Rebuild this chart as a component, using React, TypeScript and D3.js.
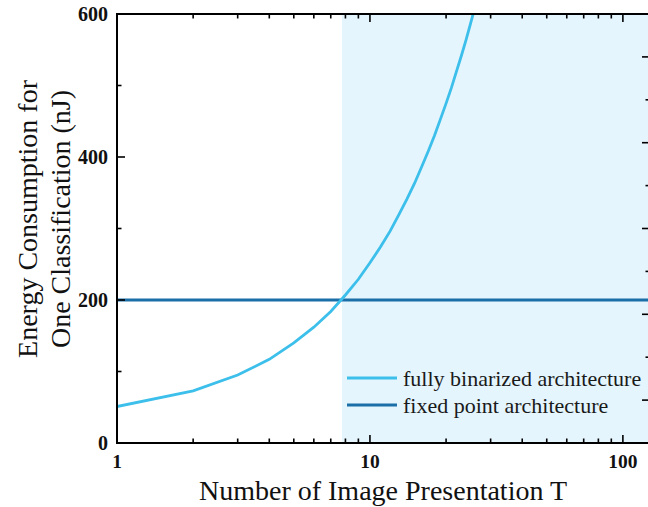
import * as d3 from "d3";

const tValues = [1, 2, 3, 4, 5, 6, 7, 8, 9, 10, 11, 12, 13, 14, 15, 16, 17, 18, 19, 20, 21, 22, 23, 24, 25, 26, 27];
const binarizedEnergy = [51, 73, 95, 117, 140, 162, 184, 207, 229, 252, 274, 296, 319, 341, 363, 386, 408, 430, 453, 475, 497, 520, 542, 564, 587, 609, 631];
const fixedPointEnergy = [200, 200];
const fixedPointT = [1, 128];
const shadeRange = [7.75, 128];
const yTicks = [0, 200, 400, 600];
const yMinorTicks = [100, 300, 500];
const xLabelTicks = [1, 10, 100];
const rightMajor = [1, 3, 5, 7, 9];
const rightMinor = [2, 4, 6, 8];
const legendLabels = ["fully binarized architecture", "fixed point architecture"];

const W = 648;
const H = 507;
const left = 117;
const right = 650;
const top = 14;
const bottom = 443;
const light = "#3cbfea";
const dark = "#1b6fa8";
const shade = "#e4f5fd";
const font = "'Liberation Serif', 'Times New Roman', serif";

export default function App() {
  const x = d3.scaleLog().domain([1, 128]).range([left, right]);
  const y = d3.scaleLinear().domain([0, 600]).range([bottom, top]);
  const yr = d3.scaleLinear().domain([0, 10]).range([bottom, top]);

  const line = d3
    .line<[number, number]>()
    .x((d) => x(d[0]))
    .y((d) => y(d[1]));

  const binPts = tValues.map((t, i) => [t, binarizedEnergy[i]] as [number, number]);
  const fixPts = fixedPointT.map((t, i) => [t, fixedPointEnergy[i]] as [number, number]);

  // log minor ticks
  const xMinor: number[] = [];
  for (let dec = 1; dec <= 100; dec *= 10) {
    for (let k = 2; k <= 9; k++) {
      if (dec * k <= 128) xMinor.push(dec * k);
    }
  }

  return (
    <svg width={W} height={H} style={{ position: "absolute", left: 0, top: 0 }}>
      <defs>
        <clipPath id="plot">
          <rect x={left} y={top} width={right - left} height={bottom - top} />
        </clipPath>
      </defs>
      <rect
        x={x(shadeRange[0])}
        y={top}
        width={x(shadeRange[1]) - x(shadeRange[0])}
        height={bottom - top}
        fill={shade}
      />
      <g clipPath="url(#plot)">
        <path d={line(fixPts) ?? ""} fill="none" stroke={dark} strokeWidth={2.8} />
        <path d={line(binPts) ?? ""} fill="none" stroke={light} strokeWidth={2.8} />
      </g>

      {/* legend */}
      {legendLabels.map((lab, i) => (
        <g key={lab} transform={`translate(347,${378 + i * 27})`}>
          <line x1={0} x2={50} y1={0} y2={0} stroke={i === 0 ? light : dark} strokeWidth={2.8} />
          <text x={56} y={8} fontFamily={font} fontSize={22} fill="#1a1a1a">
            {lab}
          </text>
        </g>
      ))}

      {/* frame */}
      <g stroke="#000" strokeWidth={2} fill="none">
        <line x1={left} x2={left} y1={top - 1} y2={bottom + 1} />
        <line x1={left - 1} x2={right} y1={bottom} y2={bottom} />
        <line x1={left - 1} x2={right} y1={top} y2={top} />
        <line x1={right} x2={right} y1={top} y2={bottom} />
      </g>

      {/* ticks */}
      <g stroke="#000" strokeWidth={1.6}>
        {xLabelTicks.map((t) => (
          <g key={`xm${t}`}>
            <line x1={x(t)} x2={x(t)} y1={bottom} y2={bottom - 8} />
            <line x1={x(t)} x2={x(t)} y1={top} y2={top + 8} />
          </g>
        ))}
        {xMinor.map((t) => (
          <g key={`xn${t}`}>
            <line x1={x(t)} x2={x(t)} y1={bottom} y2={bottom - 4.5} />
            <line x1={x(t)} x2={x(t)} y1={top} y2={top + 4.5} />
          </g>
        ))}
        {yTicks.map((v) => (
          <line key={`ym${v}`} x1={left} x2={left + 8} y1={y(v)} y2={y(v)} />
        ))}
        {yMinorTicks.map((v) => (
          <line key={`yn${v}`} x1={left} x2={left + 4.5} y1={y(v)} y2={y(v)} />
        ))}
        {rightMajor.map((v) => (
          <line key={`rm${v}`} x1={right} x2={right - 8} y1={yr(v)} y2={yr(v)} />
        ))}
        {rightMinor.map((v) => (
          <line key={`rn${v}`} x1={right} x2={right - 4.5} y1={yr(v)} y2={yr(v)} />
        ))}
      </g>

      {/* tick labels */}
      {xLabelTicks.map((t) => (
        <text
          key={`xl${t}`}
          x={x(t)}
          y={468}
          textAnchor="middle"
          fontFamily={font}
          fontWeight="bold"
          fontSize={19.5}
          fill="#111"
        >
          {t}
        </text>
      ))}
      {yTicks.map((v) => (
        <text
          key={`yl${v}`}
          x={108}
          y={y(v) + 7}
          textAnchor="end"
          fontFamily={font}
          fontWeight="bold"
          fontSize={20}
          fill="#111"
        >
          {v}
        </text>
      ))}

      {/* axis titles */}
      <text x={383} y={500} textAnchor="middle" fontFamily={font} fontSize={28} fill="#111">
        Number of Image Presentation T
      </text>
      <g transform="translate(0,219) rotate(-90)" fontFamily={font} fontSize={28} fill="#111">
        <text x={0} y={37} textAnchor="middle">
          Energy Consumption for
        </text>
        <text x={0} y={70} textAnchor="middle">
          One Classification (nJ)
        </text>
      </g>
    </svg>
  );
}
